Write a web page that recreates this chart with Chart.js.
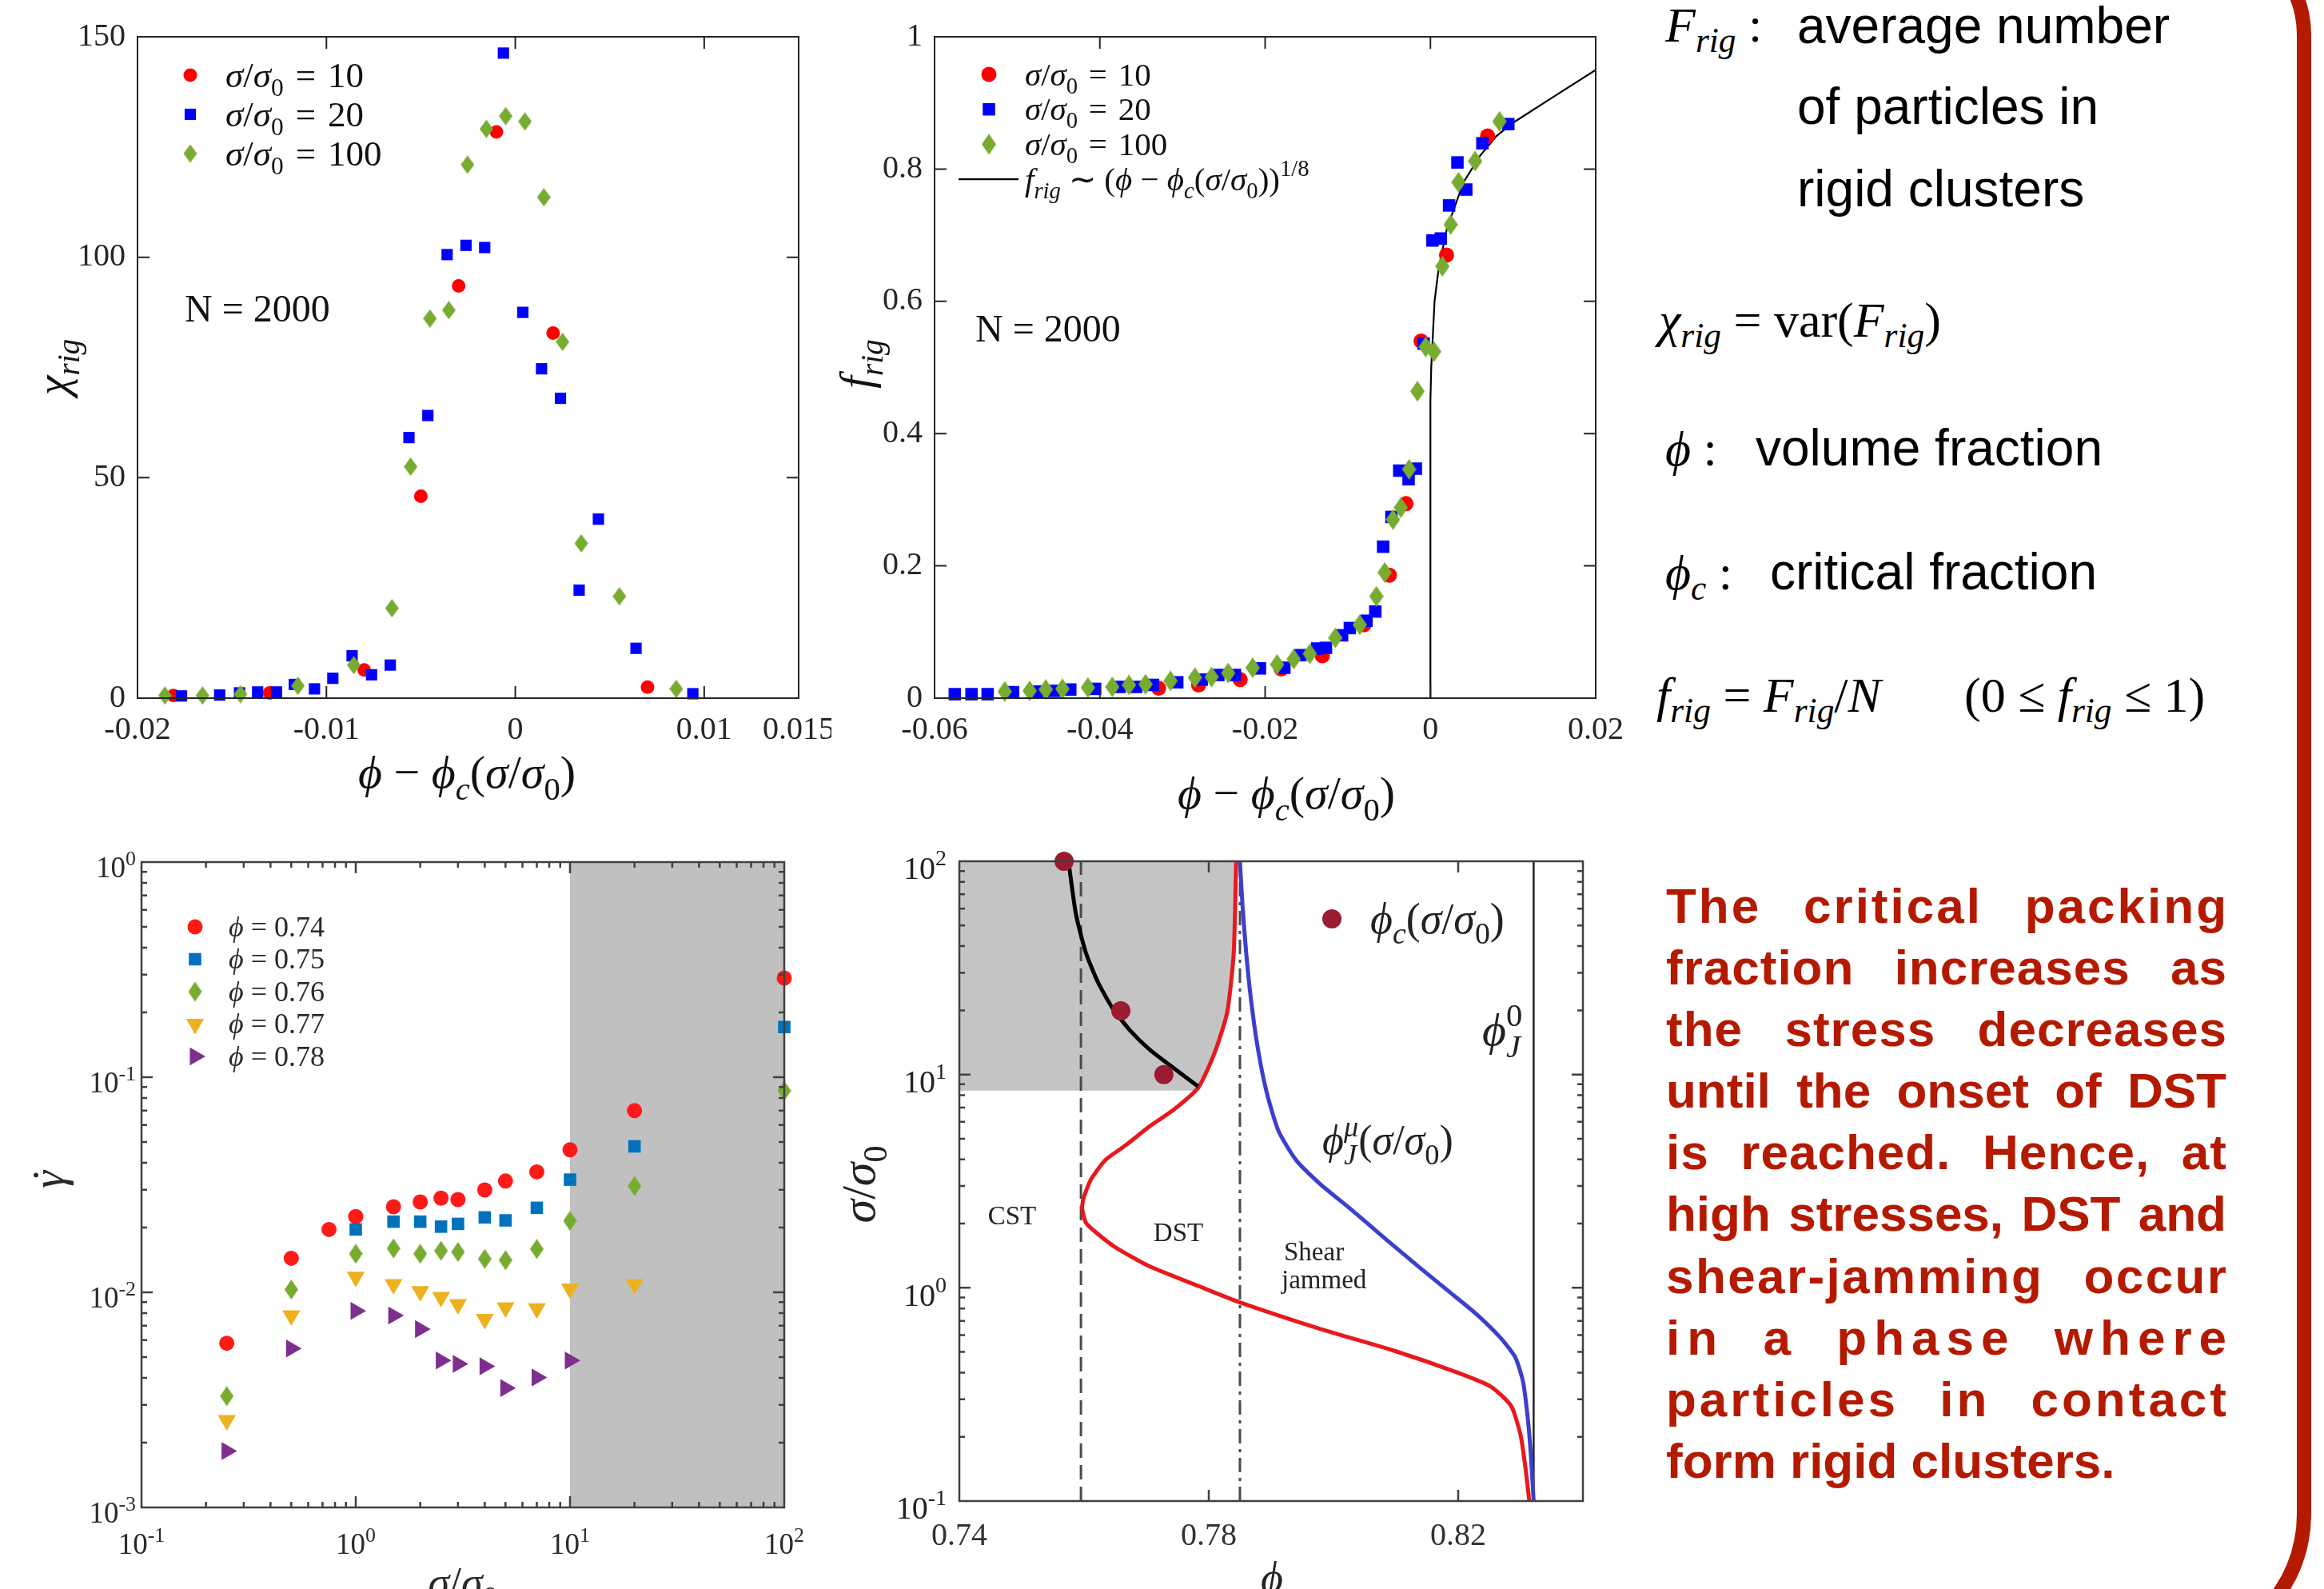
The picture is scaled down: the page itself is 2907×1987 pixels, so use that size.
<!DOCTYPE html>
<html lang="en">
<head>
<meta charset="UTF-8">
<title>Rigid clusters and shear jamming</title>
<script src="https://cdn.jsdelivr.net/npm/chart.js"></script>
<style>
  body { margin: 0; width: 2907px; height: 1987px; background: #fff; position: relative; overflow: hidden; }
  canvas { position: absolute; }
  .t { position: absolute; white-space: nowrap; line-height: 1; color: #000; }
  .m { font-family: "Liberation Serif", "Times New Roman", serif; font-size: 62px; }
  .m sub { font-size: 0.7em; vertical-align: -0.3em; line-height: 0; font-style: italic; }
  .s { font-family: "Liberation Sans", Arial, Helvetica, sans-serif; font-size: 64px; }
  #note { position: absolute; left: 2084px; top: 1094px; width: 701px; color: #b41a00;
          font: bold 62px "Liberation Sans", Arial, sans-serif; }
  #note div { height: 77.1px; line-height: 77.1px; text-align: justify; text-align-last: justify; }
  #note div.last { text-align-last: left; }
  #bracket { position: absolute; left: 2300px; top: -93px; width: 591px; height: 2167px; box-sizing: border-box;
             border: 18px solid #b41a00; border-left: none; border-radius: 0 136px 180px 0; }
</style>
</head>
<body>
<canvas id="chiChart" width="1040" height="1000" style="left:0;top:0"></canvas>
<canvas id="fracChart" width="1020" height="1040" style="left:1040px;top:0"></canvas>
<canvas id="rateChart" width="1040" height="947" style="left:0;top:1040px"></canvas>
<canvas id="phaseChart" width="980" height="947" style="left:1040px;top:1040px"></canvas>

<div class="t m" style="left:2083px;top:0px"><i>F</i><sub>rig</sub> :</div>
<div class="t s" style="left:2248px;top:0px">average number</div>
<div class="t s" style="left:2248px;top:101px">of particles in</div>
<div class="t s" style="left:2248px;top:204px">rigid clusters</div>
<div class="t m" style="left:2075px;top:369px"><i>χ</i><sub>rig</sub> = var(<i>F</i><sub>rig</sub>)</div>
<div class="t m" style="left:2083px;top:530px"><i>ϕ</i> :</div>
<div class="t s" style="left:2196px;top:528px">volume fraction</div>
<div class="t m" style="left:2083px;top:685px"><i>ϕ</i><sub>c</sub> :</div>
<div class="t s" style="left:2214px;top:683px">critical fraction</div>
<div class="t m" style="left:2072px;top:838px"><i>f</i><sub>rig</sub> = <i>F</i><sub>rig</sub>/<i>N</i></div>
<div class="t m" style="left:2457px;top:838px">(0 ≤ <i>f</i><sub>rig</sub> ≤ 1)</div>

<div id="note">
  <div style="letter-spacing:3px;margin-right:-3px">The critical packing</div>
  <div style="letter-spacing:1px;margin-right:-1px">fraction increases as</div>
  <div style="letter-spacing:1px;margin-right:-1px">the stress decreases</div>
  <div>until the onset of DST</div>
  <div style="letter-spacing:1px;margin-right:-1px">is reached. Hence, at</div>
  <div>high stresses, DST and</div>
  <div style="letter-spacing:2.4px;margin-right:-2.4px">shear-jamming occur</div>
  <div style="letter-spacing:9px;margin-right:-9px">in a phase where</div>
  <div style="letter-spacing:4px;margin-right:-4px">particles in contact</div>
  <div class="last">form rigid clusters.</div>
</div>
<div id="bracket"></div>

<script>
const SERIF = '"Liberation Serif", "Times New Roman", serif';

// top left: chi_rig against phi - phi_c, N = 2000
const sigmaRatios = [10, 20, 100];
const chiX10 = [-0.0181, -0.0130, -0.0080, -0.0050, -0.0030, -0.0010, 0.0020, 0.0070];
const chiY10 = [0.6, 1.2, 6.4, 45.8, 93.5, 128.4, 82.8, 2.5];
const chiX20 = [-0.01767, -0.01565, -0.0146, -0.01364, -0.01264, -0.0117, -0.01063, -0.00966, -0.00864, -0.00761,
                -0.00662, -0.00563, -0.00463, -0.00361, -0.00261, -0.00162, -0.00063, 0.0004, 0.00139, 0.00239,
                0.00338, 0.0044, 0.00639, 0.0094];
const chiY20 = [0.5, 0.7, 1.2, 1.4, 1.4, 3.1, 2.1, 4.5, 9.6, 5.3, 7.5, 59.1, 64.1, 100.6, 102.7, 102.2, 146.3, 87.5,
                74.7, 68.0, 24.5, 40.6, 11.3, 1.0];
const chiX100 = [-0.01855, -0.01656, -0.01455, -0.01151, -0.00855, -0.00653, -0.00554, -0.00452, -0.00352, -0.00253,
                 -0.00153, -0.00051, 0.00051, 0.00151, 0.0025, 0.00349, 0.00551, 0.00852];
const chiY100 = [0.6, 0.6, 0.9, 2.8, 7.5, 20.4, 52.5, 86.1, 88.0, 121.0, 129.1, 132.0, 130.8, 113.6, 80.8, 35.1, 23.1, 2.1];
const chiTicksX = [-0.02, -0.01, 0, 0.01, 0.015];
const chiTicksY = [0, 50, 100, 150];

// top middle: f_rig against phi - phi_c
const fX10 = [-0.03289, -0.02805, -0.02302, -0.01805, -0.01308, -0.00805, -0.00497, -0.00296, -0.00113, 0.00195, 0.00692];
const fY10 = [0.015, 0.020, 0.028, 0.044, 0.064, 0.111, 0.186, 0.294, 0.540, 0.670, 0.850];
const fX20 = [-0.05755, -0.05553, -0.05358, -0.0505, -0.04755, -0.04553, -0.04358, -0.04057, -0.03761, -0.0356,
              -0.03358, -0.03063, -0.02767, -0.02566, -0.02365, -0.02063, -0.01767, -0.01572, -0.01371, -0.01264,
              -0.01069, -0.00975, -0.00774, -0.00667, -0.00572, -0.00472, -0.00377, -0.00264, -0.00176, -0.00082,
              0.00025, 0.00126, 0.00226, 0.00327, 0.00434, 0.00629, 0.00943];
const fY20 = [0.006, 0.006, 0.006, 0.009, 0.010, 0.011, 0.013, 0.014, 0.017, 0.017, 0.020, 0.024, 0.028, 0.035, 0.035,
              0.045, 0.046, 0.065, 0.075, 0.076, 0.095, 0.106, 0.117, 0.131, 0.229, 0.274, 0.344, 0.331, 0.347, 0.536,
              0.692, 0.695, 0.745, 0.810, 0.769, 0.839, 0.868];
const fX100 = [-0.05151, -0.04849, -0.04654, -0.04453, -0.04145, -0.03849, -0.03648, -0.03447, -0.03145, -0.02849,
               -0.02648, -0.02447, -0.02151, -0.01855, -0.01654, -0.01459, -0.01151, -0.00855, -0.00654, -0.00553,
               -0.00453, -0.00358, -0.00258, -0.00157, -0.00057, 0.00044, 0.00145, 0.00245, 0.0034, 0.00541, 0.00836];
const fY100 = [0.010, 0.011, 0.013, 0.014, 0.016, 0.017, 0.020, 0.021, 0.026, 0.031, 0.032, 0.038, 0.046, 0.051, 0.059,
               0.067, 0.091, 0.111, 0.154, 0.190, 0.270, 0.288, 0.346, 0.464, 0.531, 0.524, 0.653, 0.716, 0.780, 0.812, 0.872];
const fitX = [0, 0, 0.0001, 0.0005, 0.001, 0.002, 0.004, 0.006, 0.008, 0.010, 0.015, 0.020];
const fitY = [0, 0.45, 0.50, 0.60, 0.65, 0.71, 0.78, 0.82, 0.85, 0.87, 0.91, 0.95];
const fracTicksX = [-0.06, -0.04, -0.02, 0, 0.02];
const fracTicksY = [0, 0.2, 0.4, 0.6, 0.8, 1];

// bottom left: shear rate against stress
const phiValues = [0.74, 0.75, 0.76, 0.77, 0.78];
const rateX74 = [0.25, 0.5, 0.75, 1, 1.5, 2, 2.5, 3, 4, 5, 7, 10, 20, 100];
const rateY74 = [0.0058, 0.0144, 0.0196, 0.0225, 0.025, 0.0263, 0.0274, 0.027, 0.0299, 0.0329, 0.0363, 0.046, 0.07, 0.289];
const rateX75 = [1, 1.5, 2, 2.5, 3, 4, 5, 7, 10, 20, 100];
const rateY75 = [0.0196, 0.0213, 0.0213, 0.0202, 0.0208, 0.0223, 0.0216, 0.0247, 0.0334, 0.0477, 0.171];
const rateX76 = [0.25, 0.5, 1, 1.5, 2, 2.5, 3, 4, 5, 7, 10, 20, 100];
const rateY76 = [0.00329, 0.0103, 0.0151, 0.016, 0.0151, 0.0156, 0.0154, 0.0143, 0.0141, 0.0159, 0.0215, 0.0312, 0.0865];
const rateX77 = [0.25, 0.5, 1, 1.5, 2, 2.5, 3, 4, 5, 7, 10, 20];
const rateY77 = [0.00254, 0.0078, 0.0118, 0.0109, 0.0101, 0.0095, 0.0088, 0.0075, 0.0085, 0.0084, 0.0104, 0.0109];
const rateX78 = [0.25, 0.5, 1, 1.5, 2, 2.5, 3, 4, 5, 7, 10];
const rateY78 = [0.00183, 0.00548, 0.0082, 0.0078, 0.00675, 0.00482, 0.00465, 0.00453, 0.00359, 0.00402, 0.00482];
const rateDecadesX = [0.1, 1, 10, 100];
const rateDecadesY = [0.001, 0.01, 0.1, 1];
const highStressX = [10, 100];

// bottom middle: phase diagram
const dstPhi = [0.7844, 0.7840, 0.7830, 0.7814, 0.7799, 0.7783, 0.7744, 0.7705, 0.7666, 0.7634, 0.7611, 0.7599, 0.7597,
                0.7603, 0.7619, 0.7650, 0.7705, 0.7783, 0.7850, 0.7979, 0.8097, 0.8198, 0.8253, 0.8285, 0.8300, 0.8308, 0.8314];
const dstSig = [100, 37.2, 19.9, 13.8, 10.7, 8.66, 6.85, 5.71, 4.64, 3.97, 3.22, 2.62, 2.36,
                2.02, 1.82, 1.55, 1.26, 1.02, 0.854, 0.641, 0.507, 0.401, 0.343, 0.279, 0.204, 0.142, 0.1];
const jamPhi = [0.7850, 0.7854, 0.7860, 0.7868, 0.7879, 0.7893, 0.7912, 0.7940, 0.7979, 0.8026, 0.8081, 0.8136, 0.8183,
                0.8230, 0.8269, 0.8292, 0.8304, 0.8312, 0.8317, 0.8321];
const jamSig = [100, 62.6, 37.2, 22.1, 13.1, 8.22, 5.42, 3.97, 3.06, 2.36, 1.72, 1.26, 0.972,
                0.749, 0.578, 0.469, 0.362, 0.238, 0.157, 0.1];
const critFitPhi = [0.7575, 0.7587, 0.7603, 0.7622, 0.7646, 0.7673, 0.7705, 0.7744, 0.7783];
const critFitSig = [100, 56.4, 37.2, 27.2, 20.4, 16.2, 13.1, 10.7, 8.8];
const critPhi = [0.7568, 0.7659, 0.7728];
const critSig = [100, 19.9, 10.0];
const shadePhi = [0.74, 0.7844, 0.7840, 0.7830, 0.7814, 0.7799, 0.7783, 0.7781, 0.74];
const shadeSig = [100, 100, 37.2, 19.9, 13.8, 10.7, 8.66, 8.4, 8.4];
const phiCST = 0.7595, phiDST = 0.7850, phiJ0 = 0.8321;
const phaseTicksX = [0.74, 0.78, 0.82];
const phaseDecadesY = [0.1, 1, 10, 100];

const pts = (xs, ys) => xs.map((x, i) => ({ x, y: ys[i] }));
const fmt = v => String(Number(v.toFixed(4)));
const ratio = [['σ', 'i'], ['/'], ['σ', 'i'], ['0', 'd']];
const ratioLabel = r => [...ratio, ['\u2004=\u2004' + r]];
const phiC = [['ϕ', 'i'], ['c', 'id']];

function diamond(w, h, color) {
  const c = document.createElement('canvas');
  c.width = w; c.height = h;
  const g = c.getContext('2d');
  g.fillStyle = color;
  g.beginPath();
  g.moveTo(w / 2, 0); g.lineTo(w, h / 2); g.lineTo(w / 2, h); g.lineTo(0, h / 2);
  g.closePath(); g.fill();
  return c;
}

function markers(xs, ys, color, style, radius, rotation, order, legendText) {
  return { type: 'scatter', data: pts(xs, ys), backgroundColor: color, borderColor: color,
           pointStyle: style, pointRadius: radius, pointHoverRadius: radius, pointRotation: rotation,
           pointBorderWidth: 0, showLine: false, clip: false, order, legendText };
}
function curve(xs, ys, color, width, dash, order, tension, legendText) {
  return { type: 'line', data: pts(xs, ys), borderColor: color, borderWidth: width, borderDash: dash,
           pointRadius: 0, fill: false, tension, order, legendText };
}
function shade(xs, ys, color) {
  return { type: 'line', data: pts(xs, ys), backgroundColor: color, borderColor: 'rgba(0,0,0,0)',
           borderWidth: 0, pointRadius: 0, fill: 'shape', order: 9 };
}

function fitBox(size, horizontal) {
  return s => {
    if (horizontal) s.height = size; else s.width = size;
    s.paddingLeft = s.paddingRight = s.paddingTop = s.paddingBottom = 0;
  };
}
function linAxis(min, max, ticks, size, horizontal, padding, color) {
  return { type: 'linear', min, max,
    grid: { display: false, drawTicks: false }, border: { display: false },
    afterBuildTicks: s => { s.ticks = ticks.map(v => ({ value: v })); },
    afterFit: fitBox(size, horizontal),
    ticks: { padding, color, autoSkip: false, maxRotation: 0, font: { family: SERIF, size: 40 }, callback: v => fmt(v) } };
}
function logAxis(min, max, decades, size, horizontal) {
  return { type: 'logarithmic', min, max,
    grid: { display: false, drawTicks: false }, border: { display: false },
    afterBuildTicks: s => { s.ticks = decades.map(v => ({ value: v, major: true })); },
    afterFit: fitBox(size, horizontal),
    ticks: { display: false } };
}

// mixed roman / italic / sub / superscript text on the canvas; y is the visual middle
function layoutRich(ctx, parts, size) {
  const items = [];
  let x = 0, right = 0;
  for (const [text, flags = '', shift = 0] of parts) {
    const small = flags.includes('d') || flags.includes('u');
    const fs = small ? size * 0.7 : size;
    const font = (flags.includes('i') ? 'italic ' : '') + fs.toFixed(1) + 'px ' + SERIF;
    ctx.font = font;
    const w = ctx.measureText(text).width;
    const dy = flags.includes('d') ? size * 0.25 : flags.includes('u') ? -size * 0.42 : 0;
    items.push({ text, font, x: x + shift * size, dy });
    right = Math.max(right, x + w);
    if (!flags.includes('!')) x += w;
  }
  return { items, width: Math.max(right, x) };
}
function drawRich(ctx, parts, x, y, size, align, rot, color) {
  ctx.save();
  ctx.translate(x, y);
  if (rot) ctx.rotate(rot);
  const L = layoutRich(ctx, parts, size);
  const x0 = align === 'center' ? -L.width / 2 : align === 'right' ? -L.width : 0;
  ctx.fillStyle = color;
  ctx.textAlign = 'left';
  ctx.textBaseline = 'alphabetic';
  for (const it of L.items) {
    ctx.font = it.font;
    ctx.fillText(it.text, x0 + it.x, size * 0.33 + it.dy);
  }
  ctx.restore();
}

function drawMarker(ctx, ds, x, y) {
  const st = ds.pointStyle, r = ds.pointRadius;
  ctx.save();
  ctx.translate(x, y);
  ctx.rotate((ds.pointRotation || 0) * Math.PI / 180);
  ctx.fillStyle = ds.backgroundColor;
  if (typeof st === 'object') {
    ctx.drawImage(st, -st.width / 2, -st.height / 2);
  } else {
    ctx.beginPath();
    if (st === 'circle') ctx.arc(0, 0, r, 0, 2 * Math.PI);
    else if (st === 'rect') { const h = r * Math.SQRT1_2; ctx.rect(-h, -h, 2 * h, 2 * h); }
    else if (st === 'triangle') {
      for (let k = 0; k < 3; k++) {
        const a = k * 2 * Math.PI / 3;
        ctx[k ? 'lineTo' : 'moveTo'](Math.sin(a) * r, -Math.cos(a) * r);
      }
      ctx.closePath();
    }
    ctx.fill();
  }
  ctx.restore();
}

// box with inward ticks, log labels, titles and in-plot legend
const frame = {
  id: 'frame',
  afterDatasetsDraw(chart, args, o) {
    const ctx = chart.ctx, a = chart.chartArea;
    const sx = chart.scales.x, sy = chart.scales.y;
    const marks = scale => {
      const out = scale.ticks.map(t => [t.value, o.major]);
      if (scale.type === 'logarithmic') {
        for (let e = Math.floor(Math.log10(scale.min)); e < Math.ceil(Math.log10(scale.max)); e++) {
          for (let m = 2; m < 10; m++) out.push([m * Math.pow(10, e), o.minor]);
        }
      }
      return out;
    };
    ctx.save();
    ctx.strokeStyle = o.color;
    ctx.lineWidth = o.width;
    ctx.beginPath();
    for (const [v, len] of marks(sx)) {
      const p = sx.getPixelForValue(v);
      if (p <= a.left + 1 || p >= a.right - 1) continue;
      ctx.moveTo(p, a.bottom); ctx.lineTo(p, a.bottom - len);
      ctx.moveTo(p, a.top); ctx.lineTo(p, a.top + len);
    }
    for (const [v, len] of marks(sy)) {
      const p = sy.getPixelForValue(v);
      if (p <= a.top + 1 || p >= a.bottom - 1) continue;
      ctx.moveTo(a.left, p); ctx.lineTo(a.left + len, p);
      ctx.moveTo(a.right, p); ctx.lineTo(a.right - len, p);
    }
    ctx.stroke();
    ctx.strokeRect(a.left, a.top, a.right - a.left, a.bottom - a.top);
    ctx.restore();

    const exp = v => [['10'], [String(Math.round(Math.log10(v))), 'u']];
    if (sx.type === 'logarithmic') {
      sx.ticks.forEach(t => drawRich(ctx, exp(t.value), sx.getPixelForValue(t.value), a.bottom + o.logGapX,
                                     o.logSize, 'center', 0, o.textColor));
    }
    if (sy.type === 'logarithmic') {
      sy.ticks.forEach(t => drawRich(ctx, exp(t.value), a.left - o.logGapY, sy.getPixelForValue(t.value) + o.logDropY,
                                     o.logSize, 'right', 0, o.textColor));
    }
    (o.texts || []).forEach(t => drawRich(ctx, t.parts, t.x, t.y, t.size, t.align || 'left', t.rot || 0, o.textColor));

    if (o.legend) {
      const L = o.legend;
      let row = 0;
      chart.data.datasets.forEach(ds => {
        if (!ds.legendText) return;
        const y = L.y + row * L.dy;
        row++;
        if (ds.type === 'line') {
          ctx.save();
          ctx.strokeStyle = ds.borderColor;
          ctx.lineWidth = ds.borderWidth;
          ctx.beginPath(); ctx.moveTo(L.lineFrom, y); ctx.lineTo(L.lineTo, y); ctx.stroke();
          ctx.restore();
        } else {
          drawMarker(ctx, ds, L.x, y);
        }
        drawRich(ctx, ds.legendText, L.tx, y, L.size, 'left', 0, o.textColor);
      });
    }
  }
};

function makeChart(id, datasets, scales, padding, frameOpts) {
  return new Chart(document.getElementById(id), {
    type: 'scatter',
    data: { datasets },
    options: {
      responsive: false, animation: false, events: [],
      layout: { padding },
      scales,
      plugins: { legend: { display: false }, tooltip: { enabled: false }, frame: frameOpts }
    },
    plugins: [frame]
  });
}

const RED = '#ff0000', BLUE = '#0000ff', GREEN = '#77ac30';
const UP = -Math.PI / 2;

makeChart('chiChart', [
  markers(chiX10, chiY10, RED, 'circle', 8.5, 0, 3, ratioLabel(sigmaRatios[0])),
  markers(chiX20, chiY20, BLUE, 'rect', 10, 0, 2, ratioLabel(sigmaRatios[1])),
  markers(chiX100, chiY100, GREEN, diamond(17, 23, GREEN), 10, 0, 1, ratioLabel(sigmaRatios[2]))
], {
  x: linAxis(chiTicksX[0], chiTicksX[chiTicksX.length - 1], chiTicksX, 127, true, 16, '#262626'),
  y: linAxis(chiTicksY[0], chiTicksY[chiTicksY.length - 1], chiTicksY, 172, false, 15, '#262626')
}, { top: 46, right: 41, left: 0, bottom: 0 }, {
  color: '#262626', width: 2, major: 15, minor: 0, textColor: '#111',
  legend: { x: 238, y: 94, dy: 49, tx: 282, size: 45 },
  texts: [
    { parts: [['χ', 'i'], ['rig', 'id']], x: 67, y: 459, size: 56, align: 'center', rot: UP },
    { parts: [['ϕ', 'i'], [' − '], ...phiC, ['('], ...ratio, [')']], x: 584, y: 966, size: 58, align: 'center' },
    { parts: [['N = 2000']], x: 231, y: 386, size: 48 }
  ]
});

makeChart('fracChart', [
  markers(fX10, fY10, RED, 'circle', 9.5, 0, 3, ratioLabel(sigmaRatios[0])),
  markers(fX20, fY20, BLUE, 'rect', 11, 0, 2, ratioLabel(sigmaRatios[1])),
  markers(fX100, fY100, GREEN, diamond(18, 26, GREEN), 11, 0, 1, ratioLabel(sigmaRatios[2])),
  curve(fitX, fitY, '#000', 2.2, [], 4, 0,
        [['f', 'i'], ['rig', 'id'], [' ∼ ('], ['ϕ', 'i'], [' − '], ...phiC, ['('], ...ratio, ['))'], ['1/8', 'u']])
], {
  x: linAxis(fracTicksX[0], fracTicksX[fracTicksX.length - 1], fracTicksX, 167, true, 16, '#262626'),
  y: linAxis(fracTicksY[0], fracTicksY[fracTicksY.length - 1], fracTicksY, 129, false, 15, '#262626')
}, { top: 46, right: 64, left: 0, bottom: 0 }, {
  color: '#262626', width: 2, major: 15, minor: 0, textColor: '#111',
  legend: { x: 197, y: 93, dy: 43.7, tx: 242, size: 41, lineFrom: 159, lineTo: 234 },
  texts: [
    { parts: [['f', 'i'], ['rig', 'id']], x: 32, y: 455, size: 56, align: 'center', rot: UP },
    { parts: [['ϕ', 'i'], [' − '], ...phiC, ['('], ...ratio, [')']], x: 569, y: 992, size: 58, align: 'center' },
    { parts: [['N = 2000']], x: 180, y: 411, size: 48 }
  ]
});

const rateShadeX = [highStressX[0], highStressX[1], highStressX[1], highStressX[0]];
const rateShadeY = [rateDecadesY[0], rateDecadesY[0], rateDecadesY[3], rateDecadesY[3]];
const phiLabel = v => [['ϕ', 'i'], [' = ' + v.toFixed(2)]];
makeChart('rateChart', [
  markers(rateX74, rateY74, '#ff1a1a', 'circle', 9.5, 0, 5, phiLabel(phiValues[0])),
  markers(rateX75, rateY75, '#0072bd', 'rect', 11, 0, 4, phiLabel(phiValues[1])),
  markers(rateX76, rateY76, GREEN, diamond(17, 25, GREEN), 11, 0, 3, phiLabel(phiValues[2])),
  markers(rateX77, rateY77, '#edb120', 'triangle', 13, 180, 2, phiLabel(phiValues[3])),
  markers(rateX78, rateY78, '#7e2f8e', 'triangle', 13, 90, 1, phiLabel(phiValues[4])),
  shade(rateShadeX, rateShadeY, '#c0c0c0')
], {
  x: logAxis(rateDecadesX[0], rateDecadesX[3], rateDecadesX, 102, true),
  y: logAxis(rateDecadesY[0], rateDecadesY[3], rateDecadesY, 177, false)
}, { top: 38, right: 59, left: 0, bottom: 0 }, {
  color: '#404040', width: 2.5, major: 14, minor: 7, textColor: '#2a2a2a',
  logSize: 37, logGapX: 46, logGapY: 7, logDropY: 7,
  legend: { x: 244, y: 119, dy: 40.5, tx: 286, size: 36 },
  texts: [
    { parts: [['˙', '!', 0.13], ['γ', 'i']], x: 62, y: 435, size: 56, align: 'center', rot: UP },
    { parts: ratio, x: 579, y: 939, size: 54, align: 'center' }
  ]
});

const sigLo = phaseDecadesY[0], sigHi = phaseDecadesY[3];
makeChart('phaseChart', [
  markers(critPhi, critSig, '#9b1b31', 'circle', 12, 0, 1,
          [...phiC, ['('], ...ratio, [')']]),
  curve(critFitPhi, critFitSig, '#000', 5, [], 4, 0.2),
  curve(dstPhi, dstSig, '#e8191e', 5, [], 5, 0.2),
  curve(jamPhi, jamSig, '#3d3fcc', 5, [], 5, 0.2),
  curve([phiCST, phiCST], [sigLo, sigHi], '#4a4a4a', 3, [18, 9], 6, 0),
  curve([phiDST, phiDST], [sigLo, sigHi], '#4a4a4a', 3, [18, 7, 4, 7], 6, 0),
  curve([phiJ0, phiJ0], [sigLo, sigHi], '#222', 2.5, [], 6, 0),
  shade(shadePhi, shadeSig, '#c4c4c4')
], {
  x: linAxis(0.74, 0.84, phaseTicksX, 110, true, 20, '#333'),
  y: logAxis(sigLo, sigHi, phaseDecadesY, 160, false)
}, { top: 37, right: 40, left: 0, bottom: 0 }, {
  color: '#404040', width: 2.5, major: 14, minor: 7, textColor: '#222',
  logSize: 40, logGapX: 46, logGapY: 16, logDropY: 9,
  legend: { x: 626, y: 109, dy: 0, tx: 674, size: 54 },
  texts: [
    { parts: ratio, x: 34, y: 441, size: 60, align: 'center', rot: UP },
    { parts: [['ϕ', 'i']], x: 551, y: 933, size: 54, align: 'center' },
    { parts: [['ϕ', 'i'], ['J', 'id!'], ['0', 'u']], x: 814, y: 248, size: 58 },
    { parts: [['ϕ', 'i'], ['J', 'id!'], ['μ', 'iu'], ['('], ...ratio, [')']], x: 614, y: 386, size: 52 },
    { parts: [['CST']], x: 226, y: 480, size: 33, align: 'center' },
    { parts: [['DST']], x: 434, y: 501, size: 33, align: 'center' },
    { parts: [['Shear']], x: 566, y: 525, size: 33 },
    { parts: [['jammed']], x: 563, y: 560, size: 33 }
  ]
});
</script>
</body>
</html>
